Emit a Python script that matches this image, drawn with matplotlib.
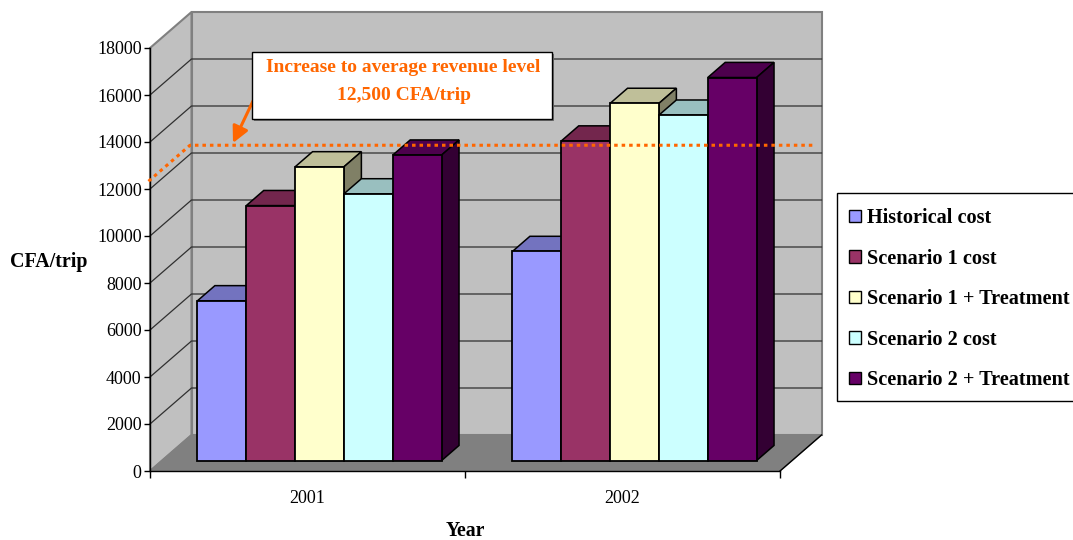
import matplotlib

matplotlib.use('Agg')
import matplotlib.pyplot as plt
from matplotlib.patches import Polygon, Patch, Rectangle
from matplotlib.transforms import offset_copy

# Chart values
years = ['2001', '2002']
series_names = ['Historical cost', 'Scenario 1 cost', 'Scenario 1 + Treatment',
                'Scenario 2 cost', 'Scenario 2 + Treatment']
historical_cost = [6800, 8900]
scenario_1_cost = [10850, 13600]
scenario_1_treatment = [12500, 15200]
scenario_2_cost = [11350, 14700]
scenario_2_treatment = [13000, 16300]
revenue_level = 12500
value_ticks = list(range(0, 18001, 2000))

# Front, top and side colours of each series
front_colors = ['#9999FF', '#993366', '#FFFFCC', '#CCFFFF', '#660066']
top_colors = ['#7373BF', '#73264D', '#BFBF99', '#99BFBF', '#4D004D']
side_colors = ['#4D4D80', '#4D1A33', '#808066', '#668080', '#330033']

WIDTH, HEIGHT = 1073, 540
SERIF = 'Liberation Serif'
ORANGE = '#FF6600'
WALL = '#C0C0C0'
FLOOR = '#808080'

fig = plt.figure(figsize=(WIDTH / 100, HEIGHT / 100), dpi=100, facecolor='white')
ax = fig.add_axes([150 / WIDTH, (HEIGHT - 471) / HEIGHT, 630 / WIDTH, 423 / HEIGHT])
ax.set_xlim(0, 2)
ax.set_ylim(0, 18000)
ax.patch.set_visible(False)

# One unit of depth moves a point this far up and to the right
DEPTH_X = 41.5 / 315
DEPTH_Y = 36 * 18000 / 423


def project(x, value, depth=0.0):
    return (x + depth * DEPTH_X, value + depth * DEPTH_Y)


def px(x, y):
    """Figure fraction of a pixel position counted from the top left."""
    return (x / WIDTH, 1 - y / HEIGHT)


def face(points, color, edge, lw=1.0, z=2):
    patch = Polygon(points, closed=True, facecolor=color, edgecolor=edge, linewidth=lw,
                    joinstyle='miter', clip_on=False, zorder=z)
    ax.add_patch(patch)


# Back wall, side wall and floor
ymax = 18000
face([project(0, 0, 1), project(2, 0, 1), project(2, ymax, 1), project(0, ymax, 1)], WALL, FLOOR, 1.5, 1)
face([project(0, 0, 0), project(0, 0, 1), project(0, ymax, 1), project(0, ymax, 0)], WALL, FLOOR, 1.5, 1)
face([project(0, 0, 0), project(2, 0, 0), project(2, 0, 1), project(0, 0, 1)], FLOOR, FLOOR, 1.0, 1)
ax.plot(*zip(project(2, 0, 0), project(2, 0, 1)), color='black', lw=1.0, clip_on=False, zorder=1.5)

# Gridlines run along the side wall and across the back wall; the top one is the wall edge
for v in value_ticks[1:-1]:
    line = [project(0, v, 0), project(0, v, 1), project(2, v, 1)]
    ax.plot(*zip(*line), color='#303030', lw=0.9, clip_on=False, zorder=1.2)

# Bars
all_series = [historical_cost, scenario_1_cost, scenario_1_treatment,
              scenario_2_cost, scenario_2_treatment]
bar_width = 0.155
bar_depth_front = 0.29
bar_depth_back = 0.71
group_width = bar_width * len(all_series)
for g in range(len(years)):
    left = g + 0.5 - group_width / 2
    for s, values in enumerate(all_series):
        x0 = left + s * bar_width
        x1 = x0 + bar_width
        v = values[g]
        d0, d1 = bar_depth_front, bar_depth_back
        face([project(x0, v, d0), project(x1, v, d0), project(x1, v, d1), project(x0, v, d1)],
             top_colors[s], 'black', 1.1, 3 + g + s * 0.1)
        face([project(x1, 0, d0), project(x1, v, d0), project(x1, v, d1), project(x1, 0, d1)],
             side_colors[s], 'black', 1.1, 3 + g + s * 0.1)
        face([project(x0, 0, d0), project(x1, 0, d0), project(x1, v, d0), project(x0, v, d0)],
             front_colors[s], 'black', 1.3, 3 + g + s * 0.1)

# Axes, ticks and their labels
for name in ['top', 'right']:
    ax.spines[name].set_visible(False)
for name in ['left', 'bottom']:
    ax.spines[name].set_linewidth(1.0)
    ax.spines[name].set_zorder(2)
ax.set_yticks(value_ticks)
ax.set_yticklabels([str(v) for v in value_ticks], family=SERIF, fontsize=13)
ax.set_xticks([0, 1, 2])
ax.set_xticklabels([])
ax.set_xticks([0.5, 1.5], minor=True)
ax.set_xticklabels(years, minor=True, family=SERIF, fontsize=13)
ax.tick_params(axis='y', length=4, width=1.0, pad=2)
ax.tick_params(axis='x', which='major', length=5, width=1.0)
ax.tick_params(axis='x', which='minor', length=0, pad=14)

fig.text(*px(10, 262), 'CFA/trip', family=SERIF, fontweight='bold', fontsize=14.4, ha='left', va='center')
fig.text(*px(465, 531.5), 'Year', family=SERIF, fontweight='bold', fontsize=14.2, ha='center', va='center')

# Dotted revenue level, nudged slightly down from the gridline scale
level_trans = offset_copy(ax.transData, fig=fig, x=-1.5, y=-4, units='dots')
level_line = [project(0, revenue_level, 0), project(0, revenue_level, 1), project(1.986, revenue_level, 1)]
ax.plot(*zip(*level_line), color=ORANGE, lw=2.2, dashes=(1.15, 1.3), dash_capstyle='butt',
        transform=level_trans, clip_on=False, zorder=10)

# Callout box with its arrow
fig.add_artist(Rectangle(px(254, 121), 300 / WIDTH, 67 / HEIGHT, facecolor='#707070',
                         edgecolor='none', transform=fig.transFigure, zorder=11))
fig.add_artist(Rectangle(px(252, 119), 300 / WIDTH, 67 / HEIGHT, facecolor='white',
                         edgecolor='black', linewidth=1.0, transform=fig.transFigure, zorder=12))
fig.text(*px(403.5, 67), 'Increase to average revenue level', family=SERIF, fontweight='bold',
         fontsize=14, color=ORANGE, ha='center', va='center', zorder=13)
fig.text(*px(404, 96), '12,500 CFA/trip', family=SERIF, fontweight='bold',
         fontsize=14, color=ORANGE, ha='center', va='center', zorder=13)
arrow = plt.annotate('', xy=px(233, 143), xytext=px(253, 101), xycoords='figure fraction',
                     textcoords='figure fraction',
                     arrowprops=dict(arrowstyle='-|>,head_length=0.7,head_width=0.35', color=ORANGE,
                                     lw=2.2, shrinkA=0, shrinkB=0, mutation_scale=14), zorder=13)

# Legend frame runs off the right side of the figure
fig.add_artist(Rectangle(px(837, 400.5), 240 / WIDTH, 207.5 / HEIGHT, facecolor='white',
                         edgecolor='black', linewidth=1.0, transform=fig.transFigure, zorder=5))
handles = [Patch(facecolor=c, edgecolor='black', linewidth=1.0) for c in front_colors]
legend = fig.legend(handles, series_names, loc='upper left', bbox_to_anchor=px(837, 196),
                    bbox_transform=fig.transFigure, borderaxespad=0, frameon=False,
                    handlelength=0.6, handleheight=0.6,
                    handletextpad=0.3, labelspacing=1.01, borderpad=0.6,
                    prop={'family': SERIF, 'weight': 'bold', 'size': 14.6})
legend.set_zorder(6)

fig.savefig('out.png', dpi=100)
